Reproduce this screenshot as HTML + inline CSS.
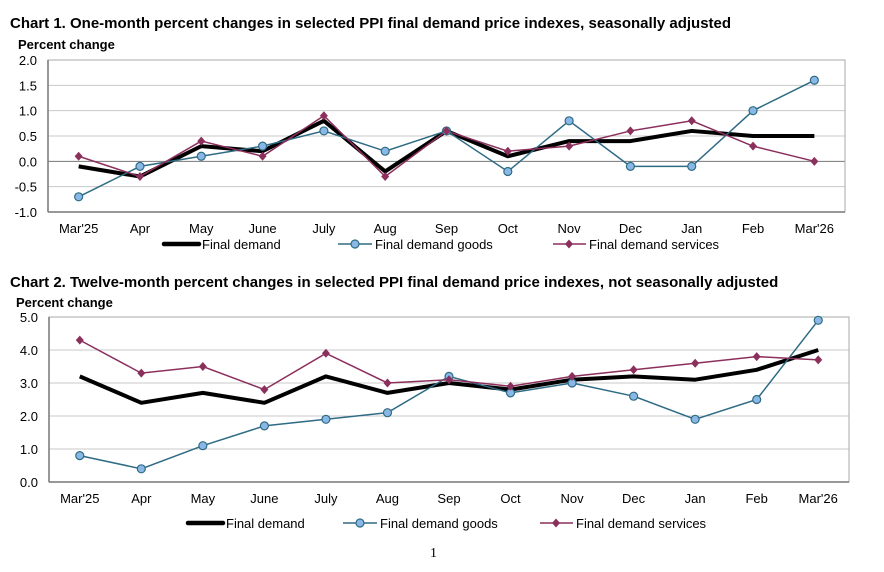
<!DOCTYPE html>
<html><head><meta charset="utf-8"><style>
body{margin:0;background:#fff;width:884px;height:567px;overflow:hidden}
svg{font-family:"Liberation Sans",Arial,sans-serif}
</style></head><body>
<svg id="s" width="884" height="567" xmlns="http://www.w3.org/2000/svg">
<text x="10" y="28" font-size="15" font-weight="bold">Chart 1. One-month percent changes in selected PPI final demand price indexes, seasonally adjusted</text>
<text x="18" y="49" font-size="13" font-weight="bold">Percent change</text>
<text x="10" y="287" font-size="15" font-weight="bold">Chart 2. Twelve-month percent changes in selected PPI final demand price indexes, not seasonally adjusted</text>
<text x="16" y="307" font-size="13" font-weight="bold">Percent change</text>
<text x="430" y="557" font-size="14" font-family="Liberation Serif,serif">1</text>
</svg>
<script>
const months=["Mar'25","Apr","May","June","July","Aug","Sep","Oct","Nov","Dec","Jan","Feb","Mar'26"];
const c1Final=[-0.1,-0.3,0.3,0.2,0.8,-0.2,0.6,0.1,0.4,0.4,0.6,0.5,0.5];
const c1Goods=[-0.7,-0.1,0.1,0.3,0.6,0.2,0.6,-0.2,0.8,-0.1,-0.1,1.0,1.6];
const c1Services=[0.1,-0.3,0.4,0.1,0.9,-0.3,0.6,0.2,0.3,0.6,0.8,0.3,0.0];
const c1Ticks=[-1.0,-0.5,0.0,0.5,1.0,1.5,2.0];
const c2Final=[3.2,2.4,2.7,2.4,3.2,2.7,3.0,2.8,3.1,3.2,3.1,3.4,4.0];
const c2Goods=[0.8,0.4,1.1,1.7,1.9,2.1,3.2,2.7,3.0,2.6,1.9,2.5,4.9];
const c2Services=[4.3,3.3,3.5,2.8,3.9,3.0,3.1,2.9,3.2,3.4,3.6,3.8,3.7];
const c2Ticks=[0.0,1.0,2.0,3.0,4.0,5.0];
const NS="http://www.w3.org/2000/svg",svg=document.getElementById('s');
function mk(t,a,p){const e=document.createElementNS(NS,t);for(const k in a)e.setAttribute(k,a[k]);(p||svg).appendChild(e);return e;}
const GC="#2e6b84",SC="#8b2f5c";
function chart(id,L,R,T,B,min,max,ticks,fin,goods,serv,zeroLine,monthY,legY,leg){
  const g=mk('g',{});
  
  
  const bw=(R-L)/months.length;
  const x=i=>L+bw*(i+0.5), y=v=>B-(v-min)/(max-min)*(B-T);
  ticks.forEach(t=>{
    const yy=y(t);
    if(t!==min){const ln=mk('line',{x1:L,x2:R,y1:yy,y2:yy,stroke:(zeroLine&&t===0)?'#777':'#c8c8c8','stroke-width':1},g);
    
    }
    const tx=mk('text',{x:L-11,y:yy+5,'font-size':13,'text-anchor':'end'},g);tx.textContent=t.toFixed(1);
    
    
  });
  const fr=mk('rect',{x:L,y:T,width:R-L,height:B-T,fill:'none',stroke:'#aaa'},g);
  
  
  mk('line',{x1:L,x2:L,y1:T,y2:B,stroke:'#777','stroke-width':1.5},g);
  mk('line',{x1:L,x2:R,y1:B,y2:B,stroke:'#777','stroke-width':1.5},g);
  months.forEach((m,i)=>{const tx=mk('text',{x:x(i),y:monthY,'font-size':13,'text-anchor':'middle'},g);tx.textContent=m;
    
    });
  const pts=a=>a.map((v,i)=>x(i)+','+y(v)).join(' ');
  const l1=mk('polyline',{points:pts(fin),fill:'none',stroke:'#000','stroke-width':4,'stroke-linejoin':'round'},g);
  
  
  const l2=mk('polyline',{points:pts(goods),fill:'none',stroke:GC,'stroke-width':1.5},g);
  
  
  const l3=mk('polyline',{points:pts(serv),fill:'none',stroke:SC,'stroke-width':1.5},g);
  
  
  goods.forEach((v,i)=>{const c=mk('circle',{cx:x(i),cy:y(v),r:4,fill:'#8ab8e6',stroke:GC,'stroke-width':1.2},g);
    
    });
  serv.forEach((v,i)=>{const d=mk('polygon',{points:`${x(i)},${y(v)-4.5} ${x(i)+4},${y(v)} ${x(i)},${y(v)+4.5} ${x(i)-4},${y(v)}`,fill:SC},g);
    
    });
  // legend
  const lg=mk('g',{},g);
  
  
  mk('line',{x1:leg[0],x2:leg[0]+35,y1:legY,y2:legY,stroke:'#000','stroke-width':4.5,'stroke-linecap':'round'},lg);
  let t=mk('text',{x:leg[0]+38,y:legY+5,'font-size':13},lg);t.textContent='Final demand';
  
  
  mk('line',{x1:leg[1],x2:leg[1]+34,y1:legY,y2:legY,stroke:GC,'stroke-width':1.5},lg);
  mk('circle',{cx:leg[1]+17,cy:legY,r:4,fill:'#8ab8e6',stroke:GC,'stroke-width':1.2},lg);
  t=mk('text',{x:leg[1]+37,y:legY+5,'font-size':13},lg);t.textContent='Final demand goods';
  
  
  mk('line',{x1:leg[2],x2:leg[2]+33,y1:legY,y2:legY,stroke:SC,'stroke-width':1.5},lg);
  mk('polygon',{points:`${leg[2]+16},${legY-4.5} ${leg[2]+20},${legY} ${leg[2]+16},${legY+4.5} ${leg[2]+12},${legY}`,fill:SC},lg);
  t=mk('text',{x:leg[2]+36,y:legY+5,'font-size':13},lg);t.textContent='Final demand services';
  
  
}
chart('chart1',48,845,60,212,-1,2,c1Ticks,c1Final,c1Goods,c1Services,true,233,244,[164,338,553]);
chart('chart2',49,849,317,482,0,5,c2Ticks,c2Final,c2Goods,c2Services,false,503,523,[188,343,540]);
</script>
</body></html>
